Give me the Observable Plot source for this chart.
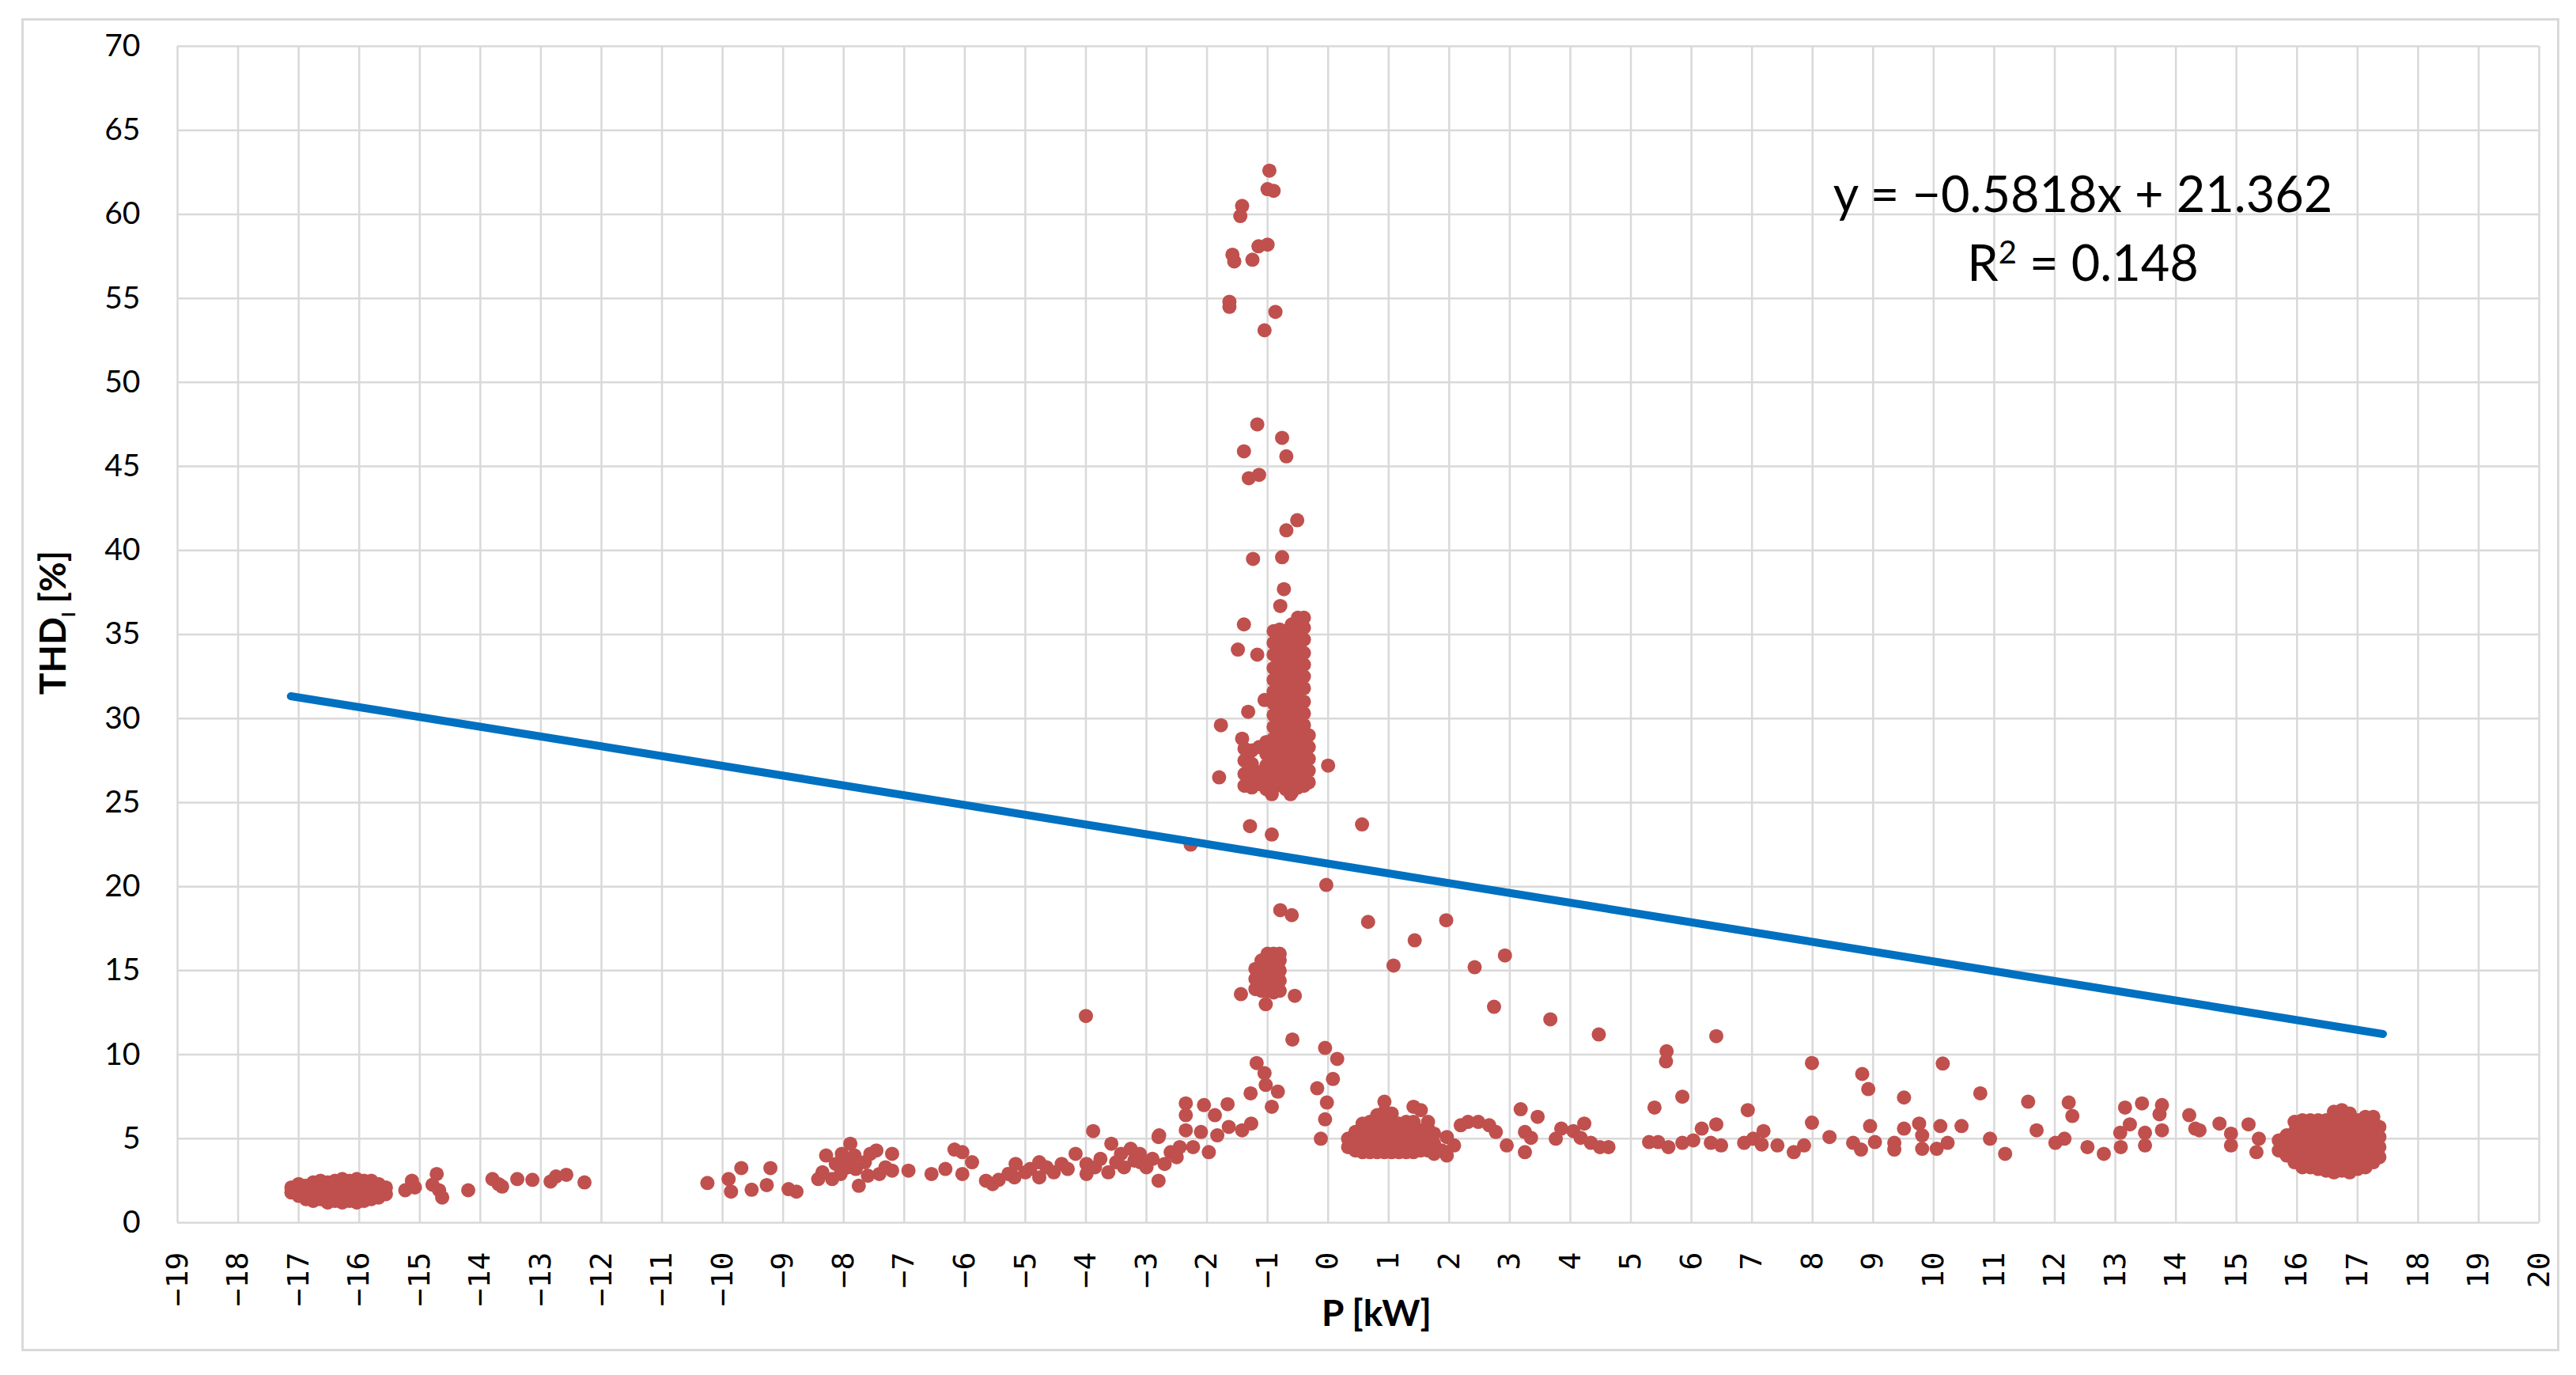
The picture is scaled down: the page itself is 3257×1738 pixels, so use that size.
<!DOCTYPE html>
<html><head><meta charset="utf-8">
<script src="https://cdn.jsdelivr.net/npm/d3@7"></script>
<script src="https://cdn.jsdelivr.net/npm/@observablehq/plot@0.6"></script>
<style>
html,body{margin:0;padding:0;background:#fff;}
#wrap{position:relative;width:3257px;height:1738px;overflow:hidden;}
#border{position:absolute;left:27px;top:23px;width:3203px;height:1679px;border:3px solid #d9d9d9;pointer-events:none;}
svg{display:block;}
</style></head><body>
<div id="wrap"><div id="border"></div></div>
<script>
// ---- tick values ----
const xTicks = [-19,-18,-17,-16,-15,-14,-13,-12,-11,-10,-9,-8,-7,-6,-5,-4,-3,-2,-1,0,1,2,3,4,5,6,7,8,9,10,11,12,13,14,15,16,17,18,19,20];
const yTicks = [0,5,10,15,20,25,30,35,40,45,50,55,60,65,70];

// ---- dense clusters read as columns: [x, [y values]] ----
const leftBlockCols = [
  [-17.12,[1.8,2.1]],
  [-17.0,[1.6,2.0,2.3]],
  [-16.88,[1.4,1.8,2.2]],
  [-16.76,[1.3,1.7,2.1,2.4]],
  [-16.64,[1.4,1.8,2.2,2.5]],
  [-16.52,[1.2,1.6,2.0,2.4]],
  [-16.40,[1.3,1.7,2.1,2.5]],
  [-16.28,[1.2,1.5,1.9,2.3,2.6]],
  [-16.16,[1.3,1.7,2.1,2.5]],
  [-16.04,[1.2,1.6,2.0,2.4,2.6]],
  [-15.92,[1.3,1.7,2.1,2.5]],
  [-15.80,[1.4,1.8,2.2,2.5]],
  [-15.68,[1.5,1.9,2.3]],
  [-15.56,[1.7,2.1]]
];
const spikeBlockCols = [
  [-1.38,[26.0,26.7,27.5,28.2]],
  [-1.26,[25.9,26.6,27.3,28.1]],
  [-1.14,[26.1,26.8,28.3]],
  [-1.02,[25.8,26.5,27.2,27.9,28.6]],
  [-0.90,[25.9,26.6,27.3,28.0,28.8,29.5,30.2,30.9,31.6,32.3,33.0,33.8,34.5,35.2]],
  [-0.80,[26.1,26.8,27.4,28.2,28.9,29.6,30.3,31.0,31.8,32.5,33.2,33.9,34.6,35.3]],
  [-0.70,[25.8,26.5,27.3,28.0,28.7,29.4,30.1,30.9,31.6,32.3,33.0,33.7,34.5,35.2]],
  [-0.60,[25.6,26.4,27.1,27.8,28.6,29.3,30.0,30.8,31.5,32.2,32.9,33.7,34.4,35.1,35.6]],
  [-0.50,[25.9,26.6,27.3,28.1,28.8,29.5,30.2,31.0,31.7,32.4,33.1,33.9,34.6,35.3,36.0]],
  [-0.40,[26.0,26.7,27.4,28.1,28.9,29.6,30.3,31.0,31.8,32.5,33.2,33.9,34.7,35.4,36.0]],
  [-0.32,[26.2,26.9,27.6,28.3,29.0]]
];
const spikeMidCols = [
  [-1.20,[13.9,14.5,15.1]],
  [-1.10,[13.8,14.4,15.0,15.6]],
  [-1.00,[13.8,14.4,15.0,15.6,16.0]],
  [-0.90,[13.7,14.3,14.9,15.5,16.0]],
  [-0.80,[13.8,14.4,15.0,15.6,16.0]]
];
const nearBlockCols = [
  [0.33,[4.5,5.0]],
  [0.45,[4.3,4.9,5.4]],
  [0.57,[4.2,4.8,5.4,5.9]],
  [0.69,[4.2,4.8,5.4,6.0]],
  [0.81,[4.2,4.8,5.4,6.0,6.4]],
  [0.93,[4.2,4.8,5.4,6.0,6.6,7.2]],
  [1.05,[4.2,4.8,5.4,6.0,6.5]],
  [1.17,[4.2,4.8,5.4,5.9]],
  [1.29,[4.2,4.8,5.4,6.0]],
  [1.41,[4.2,4.8,5.4,6.0,6.9]],
  [1.53,[4.3,4.9,5.5,6.7]],
  [1.65,[4.3,4.9,5.6,6.0]],
  [1.75,[4.1,4.7,5.3]]
];
const farRightCols = [
  [15.70,[4.3,4.9]],
  [15.83,[4.0,4.6,5.2]],
  [15.96,[3.6,4.2,4.8,5.4,6.0]],
  [16.09,[3.3,3.9,4.5,5.1,5.7,6.1]],
  [16.22,[3.3,3.9,4.5,5.1,5.7,6.1]],
  [16.35,[3.2,3.8,4.4,5.0,5.6,6.1]],
  [16.48,[3.1,3.7,4.3,4.9,5.5,6.1]],
  [16.61,[3.0,3.6,4.2,4.8,5.4,6.0,6.6]],
  [16.74,[3.1,3.7,4.3,4.9,5.5,6.1,6.7]],
  [16.87,[3.0,3.6,4.2,4.8,5.4,6.0,6.5]],
  [17.00,[3.2,3.8,4.4,5.0,5.6,6.1]],
  [17.13,[3.3,3.9,4.5,5.1,5.7,6.3]],
  [17.26,[3.6,4.2,4.8,5.4,6.0,6.3]],
  [17.36,[3.9,4.5,5.1,5.7]]
];

// ---- scattered points: [x, y] ----
const scatterFarLeft = [[-15.24,1.93],[-15.13,2.5],[-15.08,2.1],[-14.72,2.9],[-14.79,2.26],[-14.68,1.93],[-14.63,1.5],[-14.2,1.93],[-13.8,2.6],[-13.7,2.3],[-13.64,2.15],[-13.39,2.6],[-13.14,2.55],[-12.84,2.45],[-12.75,2.75],[-12.58,2.85],[-12.28,2.4]];
const scatterLeft = [[-10.25,2.36],[-9.9,2.6],[-9.86,1.85],[-9.69,3.25],[-9.52,1.96],[-9.27,2.24],[-9.21,3.25],[-8.91,2.0],[-8.78,1.85],
  [-8.42,2.6],[-8.29,4.0],[-8.19,2.6],[-8.13,3.5],[-8.03,4.1],[-7.93,3.3],[-7.89,4.7],[-7.82,4.0],[-7.8,3.2],[-7.75,2.2],[-7.56,4.1],[-7.46,4.3],[-7.41,2.9],[-7.31,3.3],[-7.2,4.1],[-7.2,3.1],[-8.35,3.0],[-8.05,2.9],[-7.95,3.8],[-7.65,3.6],[-7.6,2.8],
  [-6.93,3.1],[-6.55,2.9],[-6.32,3.2],[-6.17,4.35],[-6.04,4.2],[-5.88,3.6],[-6.04,2.9],
  [-5.65,2.5],[-5.54,2.3],[-5.44,2.55],[-5.28,2.9],[-5.16,3.5],[-5.18,2.7],[-4.92,3.2],[-4.77,2.7],[-4.77,3.6],[-4.53,3.0],[-4.4,3.5],[-4.17,4.1],[-3.99,3.5],[-3.99,2.9],[-3.88,5.45],[-4.0,12.3],[-3.76,3.8],[-3.58,4.7],[-3.42,4.1],[-3.26,4.4],[-3.11,4.1],[-2.8,5.1],[-2.8,2.5],[-3.63,3.0],[-3.37,3.3],[-3.0,3.3],[-2.7,3.5],
  [-5.0,3.0],[-4.65,3.3],[-4.3,3.2],[-3.85,3.3],[-3.5,3.6],[-3.2,3.7]];
const scatterNearZero = [[-2.79,5.2],[-2.35,7.1],[-2.05,7.0],[-1.87,6.4],[-2.35,6.4],[-1.66,7.05],[-1.64,5.7],[-1.42,5.5],[-1.27,5.9],[-1.83,5.2],[-2.35,5.5],[-2.1,5.4],[-2.23,4.5],[-1.97,4.2],
  [-2.6,4.2],[-2.45,4.5],[-2.5,3.9],[-2.9,3.8],[-3.1,3.6],
  [-1.18,9.5],[-1.05,8.9],[-1.03,8.2],[-0.83,7.8],[-1.28,7.7],[-0.93,6.9],
  [-0.59,10.9],[-0.05,10.4],[0.15,9.75],[0.08,8.55],[-0.18,8.0],[-0.02,7.15],[-0.05,6.15],[-0.12,5.0]];
const scatterSpike = [[-0.97,62.6],[-1.0,61.5],[-0.9,61.4],[-1.42,60.5],[-1.45,59.9],[-1.58,57.6],[-1.55,57.2],[-1.25,57.3],[-1.15,58.1],[-1.0,58.2],[-1.63,54.8],[-1.63,54.5],[-0.87,54.2],[-1.05,53.1],[-1.17,47.5],[-0.76,46.7],[-1.39,45.9],[-0.69,45.6],[-1.31,44.3],[-1.14,44.5],[-0.51,41.8],[-0.69,41.2],[-1.24,39.5],[-0.76,39.6],[-0.73,37.7],[-0.79,36.7],[-1.39,35.6],[-1.49,34.1],[-1.17,33.8],
  [-1.77,29.6],[-1.32,30.4],[-1.05,31.1],[-1.42,28.8],[-1.8,26.5],[0.0,27.2],[-1.29,23.6],[-0.93,23.1],[-2.27,22.5],[0.56,23.7],[-0.03,20.1],[-0.79,18.6],[-0.6,18.3],[0.66,17.9],[1.43,16.8],[1.08,15.3],[-1.44,13.6],[-0.55,13.5],[-1.03,13.0],[-0.62,25.5],[-0.93,25.5]];
const scatterRight = [[1.96,5.1],[2.19,5.8],[2.31,6.0],[2.48,6.0],[2.66,5.8],[2.77,5.4],[2.95,4.6],[1.96,4.0],[2.08,4.6],[1.88,4.3],
  [3.18,6.75],[3.46,6.3],[3.25,5.4],[3.35,5.05],[3.25,4.2],
  [3.76,5.0],[3.85,5.6],[4.05,5.45],[4.23,5.9],[4.17,5.05],[4.34,4.75],[4.49,4.5],[4.63,4.5],
  [5.3,4.8],[5.39,6.85],[5.45,4.8],[5.62,4.5],[5.85,7.5],[5.85,4.75],[6.03,4.9],[6.17,5.6],[6.41,5.85],[6.32,4.75],[6.49,4.6],
  [6.93,6.7],[6.87,4.75],[7.02,5.0],[7.19,5.45],[7.16,4.65],[7.42,4.6],[7.69,4.2],[7.86,4.6],[7.99,5.95],[8.28,5.1],[8.67,4.75],
  [2.74,12.85],[3.67,12.1],[4.47,11.2],[6.41,11.1],[5.59,10.2],[5.58,9.6],[7.99,9.5],[2.42,15.2],[2.92,15.9],[1.95,18.0],
  [8.82,8.85],[8.92,7.95],[9.51,7.45],[10.15,9.47],[10.77,7.7],[11.56,7.2],[12.23,7.15],[12.29,6.35],[13.16,6.85],[13.44,7.1],[13.77,7.0],[13.73,6.45],
  [8.95,5.75],[8.8,4.35],[9.03,4.8],[9.35,4.75],[9.35,4.35],[9.51,5.6],[9.76,5.9],[9.81,5.2],[9.81,4.4],[10.11,5.75],[10.05,4.4],[10.23,4.75],[10.46,5.75],[10.93,5.0],[11.18,4.1],[11.7,5.5],[12.01,4.75],[12.16,5.0],[12.54,4.5],[12.81,4.1],[13.09,4.5],[13.08,5.35],[13.24,5.85],[13.49,5.35],[13.49,4.6],[13.77,5.5],
  [14.22,6.4],[14.32,5.6],[14.39,5.5],[14.72,5.9],[15.2,5.85],[14.91,4.6],[14.91,5.3],[15.37,5.0],[15.33,4.2]];

// ---- trend line (Excel linear fit shown in the label) ----
const trendX = [-17.13, 17.42];
const trendY = [31.33, 11.23];
const eqLines = ["y = −0.5818x + 21.362", "R2 = 0.148"];
const xTitle = "P [kW]";
const yTitle = "THDI [%]";

// ---- build tables ----
const fromCols = cols => cols.flatMap(([x, ys]) => ys.map(y => ({x, y})));
const fromPairs = pairs => pairs.map(([x, y]) => ({x, y}));
const points = [
  ...fromCols(leftBlockCols), ...fromPairs(scatterFarLeft), ...fromPairs(scatterLeft),
  ...fromPairs(scatterNearZero), ...fromCols(spikeBlockCols), ...fromCols(spikeMidCols),
  ...fromPairs(scatterSpike), ...fromCols(nearBlockCols), ...fromPairs(scatterRight),
  ...fromCols(farRightCols)
];
const trend = trendX.map((x, i) => ({x, y: trendY[i]}));

const grid = {stroke: "#d9d9d9", strokeOpacity: 1, strokeWidth: 2.5};
const chart = Plot.plot({
  width: 3257, height: 1738,
  marginLeft: 224, marginRight: 47, marginTop: 58, marginBottom: 193,
  style: {fontFamily: "Lato", background: "transparent", color: "#000"},
  x: {domain: [-19, 20]},
  y: {domain: [0, 70]},
  marks: [
    Plot.gridX(xTicks, grid),
    Plot.gridY(yTicks, grid),
    Plot.axisY(yTicks, {tickSize: 0, tickPadding: 47, fontSize: 39, fontFamily: "Lato", label: null, fill: "#000"}),
    Plot.axisX(xTicks, {tickSize: 0, tickPadding: 37, tickRotate: -90, fontSize: 38, fontFamily: "DejaVu Sans Mono", label: null, fill: "#000"}),
    Plot.dot(points, {x: "x", y: "y", r: 9, fill: "#C0504D"}),
    Plot.line(trend, {x: "x", y: "y", stroke: "#0070C0", strokeWidth: 10, strokeLinecap: "round"}),
    Plot.text([eqLines[0]], {frameAnchor: "top-right", textAnchor: "middle", dx: -577, dy: 165, fontSize: 63, fontFamily: "Lato", fill: "#000"}),
    Plot.text([eqLines[1]], {frameAnchor: "top-right", textAnchor: "middle", dx: -577, dy: 252, fontSize: 63, fontFamily: "Lato", fill: "#000"}),
    Plot.text([xTitle], {frameAnchor: "bottom", dx: 23, dy: 130, fontSize: 46, fontWeight: "bold", fontFamily: "Lato", fill: "#000"}),
    Plot.text([yTitle], {frameAnchor: "left", rotate: -90, dx: -156, dy: -15, fontSize: 46, fontWeight: "bold", fontFamily: "Lato", fill: "#000", textAnchor: "middle"})
  ]
});
const wrap = document.getElementById("wrap");
wrap.insertBefore(chart, wrap.firstChild);

// subscript / superscript formatting of texts
const ns = "http://www.w3.org/2000/svg";
const span = (txt, attrs = {}) => {
  const s = document.createElementNS(ns, "tspan");
  s.textContent = txt;
  for (const [k, v] of Object.entries(attrs)) s.setAttribute(k, v);
  return s;
};
chart.querySelectorAll("text").forEach(t => {
  if (t.textContent === yTitle) {
    t.textContent = "";
    t.append(span("THD"), span("I", {dy: "12", "font-size": "22"}), span(" [%]", {dy: "-12"}));
  } else if (t.textContent === eqLines[1]) {
    t.textContent = "";
    t.append(span("R"), span("2", {dy: "-22", "font-size": "40"}), span(" = 0.148", {dy: "22"}));
  }
});
</script>
</body></html>
